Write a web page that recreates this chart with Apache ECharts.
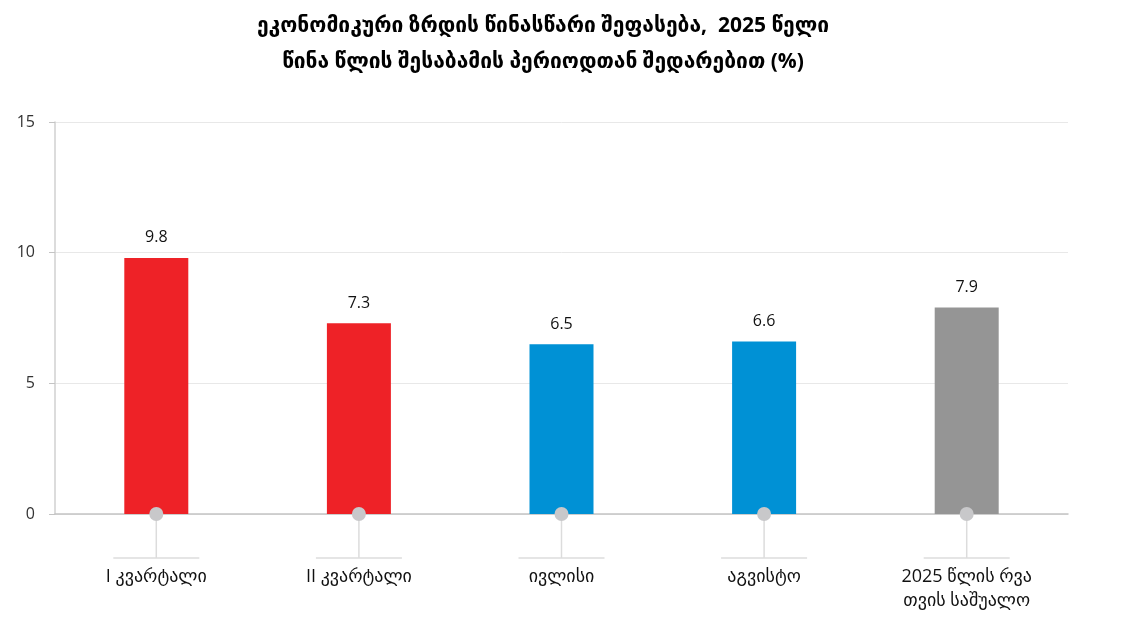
<!DOCTYPE html>
<html lang="ka">
<head>
    <meta charset="UTF-8">
    <title>ეკონომიკური ზრდის წინასწარი შეფასება</title>
    <style type="text/css">
        *{
            margin: 0;
            padding: 0;
        }
        #main{
            width: 1125px;
            height: 619px;
            background: #ffffff;
        }
    </style>
</head>
<body>
    <div id="main"></div>
    <script src="https://cdn.jsdelivr.net/npm/echarts@6/dist/echarts.min.js"></script>
    <script type="text/javascript">
        var categories = ['I კვარტალი', 'II კვარტალი', 'ივლისი', 'აგვისტო', '2025 წლის რვა\nთვის საშუალო'];
        var growth = [9.8, 7.3, 6.5, 6.6, 7.9];
        var barColors = ['#EE2227', '#EE2227', '#0091D5', '#0091D5', '#959595'];
        var yTicks = [0, 5, 10, 15];

        var font = "'Open Sans', 'DejaVu Sans', sans-serif";
        var myChart = echarts.init(document.getElementById('main'));

        var option = {
            backgroundColor: '#ffffff',
            title: {
                text: 'ეკონომიკური ზრდის წინასწარი შეფასება,  2025 წელი\nწინა წლის შესაბამის პერიოდთან შედარებით (%)',
                left: 538,
                top: 3,
                textAlign: 'center',
                textStyle: {
                    fontFamily: font,
                    fontWeight: 'bold',
                    fontSize: 21,
                    lineHeight: 36,
                    color: '#000000'
                }
            },
            grid: {
                left: 55,
                right: 57,
                top: 122,
                bottom: 105
            },
            xAxis: {
                type: 'category',
                data: categories,
                axisLine: {lineStyle: {color: '#c4c4c4', width: 1.5}},
                axisTick: {show: false},
                axisLabel: {
                    margin: 51,
                    fontFamily: font,
                    fontSize: 18,
                    lineHeight: 24,
                    color: '#111111'
                }
            },
            yAxis: {
                type: 'value',
                min: yTicks[0],
                max: yTicks[yTicks.length - 1],
                interval: yTicks[1] - yTicks[0],
                axisLine: {show: true, lineStyle: {color: '#d0d0d0', width: 1.5}},
                axisTick: {show: true, length: 6, lineStyle: {color: '#c4c4c4'}},
                axisLabel: {
                    margin: 20,
                    fontFamily: font,
                    fontSize: 16,
                    color: '#333333'
                },
                splitLine: {lineStyle: {color: '#e8e8e8'}}
            },
            series: [
                {
                    type: 'bar',
                    barWidth: 64,
                    data: growth.map(function (v, i) {
                        return {value: v, itemStyle: {color: barColors[i]}};
                    }),
                    label: {
                        show: true,
                        position: 'top',
                        distance: 12,
                        fontFamily: font,
                        fontSize: 16,
                        color: '#111111'
                    }
                },
                {
                    // marker under each bar: dot, stem and short base line
                    type: 'custom',
                    clip: false,
                    silent: true,
                    z: 5,
                    data: categories.map(function (c, i) { return [i, 0]; }),
                    renderItem: function (params, api) {
                        var p = api.coord([api.value(0), api.value(1)]);
                        var stem = 44;
                        return {
                            type: 'group',
                            children: [
                                {
                                    type: 'line',
                                    shape: {x1: p[0], y1: p[1], x2: p[0], y2: p[1] + stem},
                                    style: {stroke: '#dcdcdc', lineWidth: 1.5}
                                },
                                {
                                    type: 'line',
                                    shape: {x1: p[0] - 43, y1: p[1] + stem, x2: p[0] + 43, y2: p[1] + stem},
                                    style: {stroke: '#dcdcdc', lineWidth: 1.5}
                                },
                                {
                                    type: 'circle',
                                    shape: {cx: p[0], cy: p[1], r: 7},
                                    style: {fill: '#c8c8ca'}
                                }
                            ]
                        };
                    }
                }
            ]
        };

        myChart.setOption(option);
    </script>
</body>
</html>
